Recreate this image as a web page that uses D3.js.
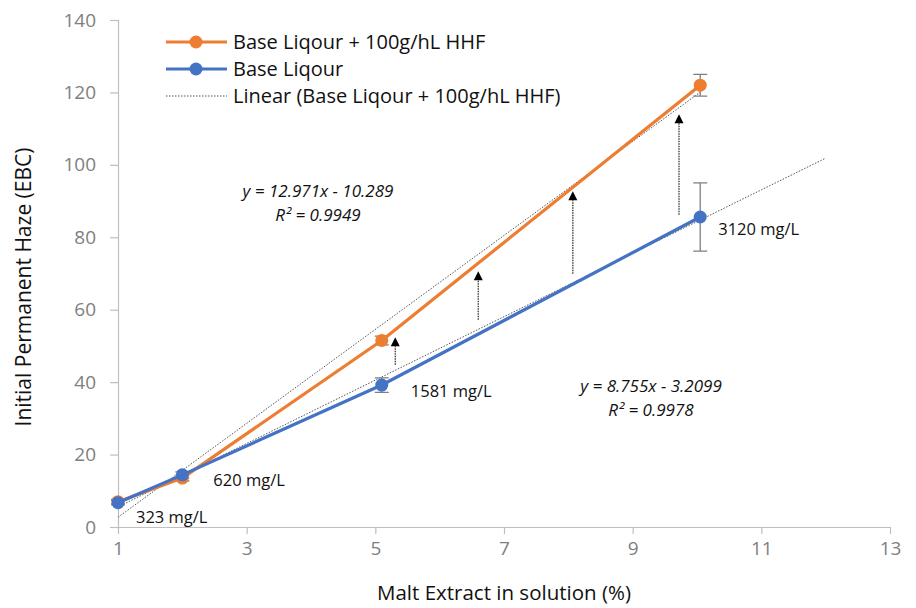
<!DOCTYPE html>
<html>
<head>
<meta charset="utf-8">
<script src="https://cdn.jsdelivr.net/npm/d3@7/dist/d3.min.js"></script>
<style>
  html, body { margin: 0; padding: 0; background: #fff; }
  svg { display: block; font-family: "Open Sans", "Noto Sans", sans-serif; }
</style>
</head>
<body>
<svg id="chart" width="916" height="608"></svg>
<script>
// Malt extract concentration (%) for each sample
const maltExtract = [1, 2, 5.1, 10.05];
// Initial permanent haze (EBC)
const hazeWithHHF = [7, 13.5, 51.5, 122];
const hazeBase = [6.7, 14.4, 39.2, 85.6];
// Error bar half-widths (EBC)
const errWithHHF = [0.6, 0.8, 1.2, 3.0];
const errBase = [0.6, 0.8, 2.0, 9.4];
// Polyphenol content labels next to base-liquor points
const pointLabels = ["323 mg/L", "620 mg/L", "1581 mg/L", "3120 mg/L"];
// Linear fits: slope, intercept, x range
const fitHHF = { slope: 12.971, intercept: -10.289, from: 1, to: 10.05 };
const fitBase = { slope: 8.755, intercept: -3.2099, from: 1, to: 12 };
// Haze increase arrows: x, start y, end y
const arrowX = [5.31, 6.6, 8.07, 9.72];
const arrowFrom = [44.8, 57.2, 69.9, 86.2];
const arrowTo = [52.4, 70.6, 92.7, 114];
// Axis ticks
const xTicks = [1, 3, 5, 7, 9, 11, 13];
const yTicks = [0, 20, 40, 60, 80, 100, 120, 140];

const ORANGE = "#ED7D31", BLUE = "#4472C4";
const svg = d3.select("#chart");
const x = d3.scaleLinear().domain([1, 13]).range([118, 890]);
const y = d3.scaleLinear().domain([0, 140]).range([527, 20]);

// Axes
const gx = svg.append("g").attr("transform", `translate(0,${y(0)})`)
  .call(d3.axisBottom(x).tickValues(xTicks).tickSize(7).tickPadding(8).tickFormat(d3.format("d")));
const gy = svg.append("g").attr("transform", `translate(${x(1)},0)`)
  .call(d3.axisLeft(y).tickValues(yTicks).tickSize(8).tickPadding(14).tickFormat(d3.format("d")));
[gx, gy].forEach(g => {
  g.selectAll("path.domain").attr("stroke", "#bfbfbf").attr("stroke-width", 1.2);
  g.selectAll(".tick line").attr("stroke", "#bfbfbf").attr("stroke-width", 1.2);
  g.selectAll(".tick text").attr("fill", "#7f7f7f").style("font-size", "19px")
    .style("font-family", "'Open Sans', sans-serif");
});
gx.select("path.domain").attr("d", `M${x(1)},0.5H${x(13)}`);
gy.select("path.domain").attr("d", `M0.5,${y(0)}V${y(140)}`);

// Axis titles
svg.append("text").attr("x", 504).attr("y", 600).attr("text-anchor", "middle")
  .style("font-size", "20.5px").attr("fill", "#111").text("Malt Extract in solution (%)");
svg.append("text").attr("transform", "translate(31,287) rotate(-90)").attr("text-anchor", "middle")
  .style("font-size", "21px").attr("fill", "#111").text("Initial Permanent Haze (EBC)");

// Trend lines
[fitHHF, fitBase].forEach(f => {
  svg.append("line")
    .attr("x1", x(f.from)).attr("y1", y(f.slope * f.from + f.intercept))
    .attr("x2", x(f.to)).attr("y2", y(f.slope * f.to + f.intercept))
    .attr("stroke", "#555").attr("stroke-width", 1).attr("stroke-dasharray", "1.5,1.5");
});

// Arrows: dotted shaft with a solid triangular head
arrowX.forEach((ax, i) => {
  svg.append("line")
    .attr("x1", x(ax)).attr("y1", y(arrowFrom[i]))
    .attr("x2", x(ax)).attr("y2", y(arrowTo[i]) + 9)
    .attr("stroke", "#333").attr("stroke-width", 1.3).attr("stroke-dasharray", "1.5,1");
  svg.append("path")
    .attr("d", `M${x(ax)},${y(arrowTo[i])} l-4.5,9 h9 Z`).attr("fill", "#000");
});

// Error bars
function errorBars(vals, errs) {
  maltExtract.forEach((mx, i) => {
    const cx = x(mx), top = y(vals[i] + errs[i]), bot = y(vals[i] - errs[i]);
    svg.append("path")
      .attr("d", `M${cx},${top}V${bot}M${cx - 7},${top}H${cx + 7}M${cx - 7},${bot}H${cx + 7}`)
      .attr("stroke", "#7f7f7f").attr("stroke-width", 1.3).attr("fill", "none");
  });
}
errorBars(hazeWithHHF, errWithHHF);
errorBars(hazeBase, errBase);

// Series lines and markers
const line = d3.line().x(d => x(d[0])).y(d => y(d[1]));
function series(vals, color) {
  const pts = maltExtract.map((mx, i) => [mx, vals[i]]);
  svg.append("path").datum(pts).attr("d", line)
    .attr("fill", "none").attr("stroke", color).attr("stroke-width", 3.2).attr("stroke-linejoin", "round");
  svg.selectAll(null).data(pts).enter().append("circle")
    .attr("cx", d => x(d[0])).attr("cy", d => y(d[1])).attr("r", 6.5).attr("fill", color);
}
series(hazeWithHHF, ORANGE);
series(hazeBase, BLUE);

// Point labels
const labelOffsets = [[18, 20], [31, 11], [29, 12], [18, 18]];
pointLabels.forEach((t, i) => {
  svg.append("text")
    .attr("x", x(maltExtract[i]) + labelOffsets[i][0])
    .attr("y", y(hazeBase[i]) + labelOffsets[i][1])
    .style("font-size", "16.5px").attr("fill", "#111").text(t);
});

// Fit equations
function equation(f, r2, cx, cy) {
  const sign = f.intercept < 0 ? "-" : "+";
  svg.append("text").attr("x", cx).attr("y", cy).attr("text-anchor", "middle")
    .style("font-size", "17px").style("font-style", "italic").attr("fill", "#111")
    .text(`y = ${f.slope}x ${sign} ${Math.abs(f.intercept)}`);
  svg.append("text").attr("x", cx).attr("y", cy + 24).attr("text-anchor", "middle")
    .style("font-size", "17px").style("font-style", "italic").attr("fill", "#111")
    .text(`R² = ${r2}`);
}
equation(fitHHF, "0.9949", 318, 197);
equation(fitBase, "0.9978", 651, 392);

// Legend
const legend = [
  { name: "Base Liqour + 100g/hL HHF", color: ORANGE, type: "series" },
  { name: "Base Liqour", color: BLUE, type: "series" },
  { name: "Linear (Base Liqour + 100g/hL HHF)", color: "#555", type: "trend" }
];
legend.forEach((l, i) => {
  const ly = 42 + i * 27;
  if (l.type === "series") {
    svg.append("line").attr("x1", 166).attr("x2", 227).attr("y1", ly).attr("y2", ly)
      .attr("stroke", l.color).attr("stroke-width", 3.2);
    svg.append("circle").attr("cx", 196).attr("cy", ly).attr("r", 6.5).attr("fill", l.color);
  } else {
    svg.append("line").attr("x1", 166).attr("x2", 227).attr("y1", ly).attr("y2", ly)
      .attr("stroke", l.color).attr("stroke-width", 1).attr("stroke-dasharray", "1.5,1.5");
  }
  svg.append("text").attr("x", 233).attr("y", ly + 7)
    .style("font-size", "20px").attr("fill", "#111").text(l.name);
});
</script>
</body>
</html>
